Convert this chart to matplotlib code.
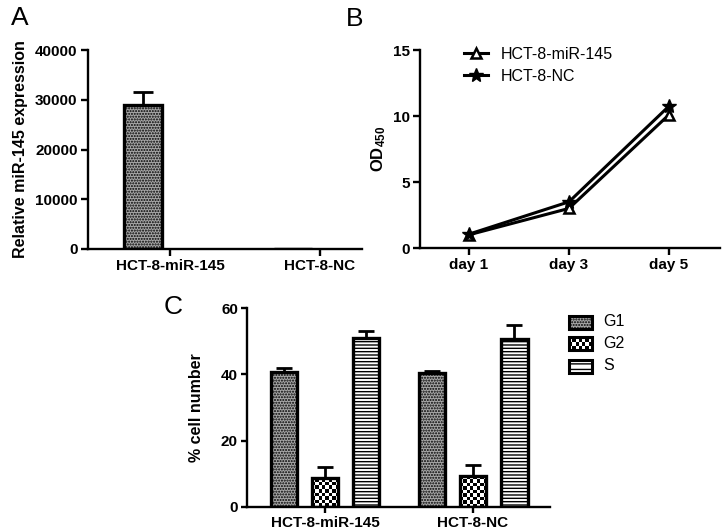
import matplotlib
matplotlib.use("Agg")
import matplotlib.pyplot as plt
from matplotlib.patches import Rectangle
import numpy as np

plt.rcParams['font.family'] = ['Liberation Sans', 'DejaVu Sans']
plt.rcParams['mathtext.fontset'] = 'custom'
plt.rcParams['mathtext.rm'] = 'Liberation Sans'
plt.rcParams['mathtext.bf'] = 'Liberation Sans:bold'
plt.rcParams['hatch.linewidth'] = 1.0

# Panel A data
a_categories = ["HCT-8-miR-145", "HCT-8-NC"]
a_values = [29000, 1]
a_errors = [2600, 0]

# Panel B data
b_days = ["day 1", "day 3", "day 5"]
b_mir145 = [1.0, 3.0, 10.1]
b_nc = [1.05, 3.5, 10.75]

# Panel C data
c_groups = ["HCT-8-miR-145", "HCT-8-NC"]
c_phases = ["G1", "G2", "S"]
c_values = {"G1": [40.7, 40.5], "G2": [8.7, 9.2], "S": [50.9, 50.6]}
c_errors = {"G1": [1.1, 0.5], "G2": [3.5, 3.6], "S": [2.1, 4.4]}

W, H = 724, 531
fig = plt.figure(figsize=(W / 100, H / 100), dpi=100)

def ax_px(l, t, r, b):
    return fig.add_axes([l / W, 1 - b / H, (r - l) / W, (b - t) / H])

def style(ax, ticklen=5):
    for s in ['top', 'right']:
        ax.spines[s].set_visible(False)
    for s in ['left', 'bottom']:
        ax.spines[s].set_linewidth(1.7)
        ax.spines[s].set_zorder(4)
    ax.tick_params(direction='out', width=1.7, length=ticklen, labelsize=11, pad=2.5)
    for lab in ax.get_xticklabels() + ax.get_yticklabels():
        lab.set_fontweight('bold')

G1_FACE = '#a8a8a8'
G1_HATCH = '......'

def checker_fill(ax, bar, cell_px=3.4):
    """Fill a bar patch with a black/white checkerboard texture."""
    x0, y0 = bar.get_x(), bar.get_y()
    x1, y1 = x0 + bar.get_width(), y0 + bar.get_height()
    p0 = ax.transData.transform((x0, y0))
    p1 = ax.transData.transform((x1, y1))
    nx = max(1, int(round(abs(p1[0] - p0[0]) / cell_px)))
    ny = max(1, int(round(abs(p1[1] - p0[1]) / cell_px)))
    ii, jj = np.indices((ny, nx))
    img = ((ii + jj) % 2).astype(float)
    im = ax.imshow(img, cmap='gray', vmin=0, vmax=1, extent=(x0, x1, y0, y1),
                   origin='lower', interpolation='nearest', aspect='auto', zorder=1.5)
    im.set_clip_path(bar)

# ---- Panel A ----
axA = ax_px(88, 50, 362, 249)
xa = np.arange(len(a_categories))
axA.bar(xa - 0.18, a_values, width=0.25, color=G1_FACE, edgecolor='black',
        linewidth=2.4, hatch=G1_HATCH, zorder=2)
axA.errorbar(xa - 0.18, a_values, yerr=[np.zeros(len(a_errors)), a_errors],
             fmt='none', ecolor='black', elinewidth=2, capsize=7, capthick=2, zorder=3)
axA.set_xlim(-0.547, 1.28)
axA.set_ylim(0, 40000)
axA.set_yticks([0, 10000, 20000, 30000, 40000])
axA.set_xticks(xa)
axA.set_xticklabels(a_categories)
axA.set_ylabel("Relative miR-145 expression", fontsize=11.5, fontweight='bold', labelpad=5)
style(axA)
fig.text(11 / W, 1 - 25 / H, "A", fontsize=19)

# ---- Panel B ----
axB = ax_px(420, 50, 720, 248)
xb = np.arange(len(b_days))
axB.plot(xb, b_mir145, color='black', linewidth=2.2, marker='^', markersize=7,
         markerfacecolor='white', markeredgecolor='black', markeredgewidth=1.8,
         label="HCT-8-miR-145", zorder=3)
axB.plot(xb, b_nc, color='black', linewidth=2.2, marker='*', markersize=10,
         markerfacecolor='black', markeredgecolor='black', label="HCT-8-NC", zorder=3)
axB.set_xlim(-0.49, 2.51)
axB.set_ylim(0, 15)
axB.set_yticks([0, 5, 10, 15])
axB.set_xticks(xb)
axB.set_xticklabels(b_days)
axB.set_ylabel(r"$\mathbf{OD_{450}}$", fontsize=12, labelpad=3)
style(axB)
axB.legend(loc='upper left', bbox_to_anchor=(0.1, 1.09), frameon=False, fontsize=11.5,
           handlelength=1.5, handletextpad=0.8, labelspacing=0.45)
fig.text(346 / W, 1 - 26 / H, "B", fontsize=19)

# ---- Panel C ----
axC = ax_px(247, 308, 550, 507)
xc = np.arange(len(c_groups))
offsets = [-0.277, 0.0, 0.277]
axC.set_xlim(-0.527, 1.52)
axC.set_ylim(0, 60)
axC.set_yticks([0, 20, 40, 60])
bars = {}
for phase, off in zip(c_phases, offsets):
    if phase == "G1":
        kw = dict(color=G1_FACE, hatch=G1_HATCH)
    elif phase == "G2":
        kw = dict(color='white')
    else:
        kw = dict(color='white', hatch='-----')
    b = axC.bar(xc + off, c_values[phase], width=0.182, edgecolor='black',
                linewidth=2.4, zorder=2, **kw)
    bars[phase] = b
    axC.errorbar(xc + off, c_values[phase],
                 yerr=[np.zeros(len(c_groups)), c_errors[phase]],
                 fmt='none', ecolor='black', elinewidth=2, capsize=6, capthick=2, zorder=3)
# G2 bars: transparent face so checker texture shows under the outline
for rect in bars["G2"]:
    rect.set_facecolor('none')
    rect.set_zorder(2)
    checker_fill(axC, rect)
axC.set_ylim(0, 60)
axC.set_yticks([0, 20, 40, 60])
axC.set_xticks(xc)
axC.set_xticklabels(c_groups)
axC.set_ylabel("% cell number", fontsize=11.5, fontweight='bold', labelpad=12)
style(axC, ticklen=4)

# Legend for panel C (drawn in a pixel-coordinate helper axes)
axL = ax_px(560, 310, 660, 378)
axL.axis('off')
leg_y = [322, 343, 366]
for phase, yc in zip(c_phases, leg_y):
    if phase == "G1":
        r = Rectangle((569, yc - 6.5), 23, 13, facecolor=G1_FACE, hatch=G1_HATCH,
                      edgecolor='black', linewidth=2.2)
        axL.add_patch(r)
    elif phase == "G2":
        r = Rectangle((569, yc - 6.5), 23, 13, facecolor='none',
                      edgecolor='black', linewidth=2.2, zorder=2)
        axL.add_patch(r)
        ii, jj = np.indices((4, 7))
        img = ((ii + jj) % 2).astype(float)
        im = axL.imshow(img, cmap='gray', vmin=0, vmax=1,
                        extent=(569, 592, yc + 6.5, yc - 6.5), origin='upper',
                        interpolation='nearest', aspect='auto', zorder=1)
        im.set_clip_path(r)
    else:
        r = Rectangle((569, yc - 6.5), 23, 13, facecolor='white', hatch='---',
                      edgecolor='black', linewidth=2.2)
        axL.add_patch(r)
    axL.text(603, yc, phase, fontsize=11.5, va='center', ha='left')
axL.set_xlim(560, 660)
axL.set_ylim(378, 310)

fig.text(164 / W, 1 - 314 / H, "C", fontsize=19)

fig.savefig("out.png", dpi=100)
